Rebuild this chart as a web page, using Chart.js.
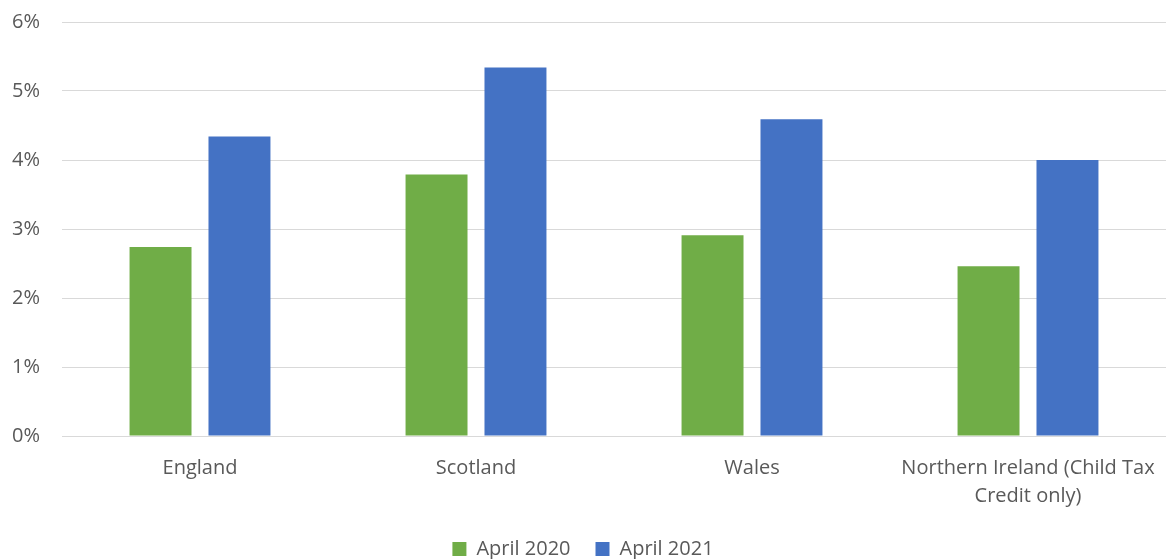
<!DOCTYPE html>
<html>
<head>
<meta charset="utf-8">
<script src="https://cdn.jsdelivr.net/npm/chart.js@4/dist/chart.umd.min.js"></script>
<style>
  html, body { margin: 0; padding: 0; background: #fff; }
  #wrap { width: 1166px; height: 559px; }
</style>
</head>
<body>
<div id="wrap"><canvas id="c"></canvas></div>
<script>
const categories = [
  'England',
  'Scotland',
  'Wales',
  ['Northern Ireland (Child Tax', 'Credit only)']
];
const april2020 = [2.74, 3.79, 2.91, 2.46];
const april2021 = [4.34, 5.34, 4.59, 4.00];
const yTicks = [0, 1, 2, 3, 4, 5, 6];

const textColor = '#595959';
const fontFamily = '"Open Sans", "Noto Sans", sans-serif';

new Chart(document.getElementById('c'), {
  type: 'bar',
  data: {
    labels: categories,
    datasets: [
      { label: 'April 2020', data: april2020, backgroundColor: '#70AD47',
        categoryPercentage: 0.572, barPercentage: 0.785 },
      { label: 'April 2021', data: april2021, backgroundColor: '#4472C4',
        categoryPercentage: 0.572, barPercentage: 0.785 }
    ]
  },
  options: {
    responsive: true,
    maintainAspectRatio: false,
    animation: false,
    layout: { padding: { top: 22, right: 0, left: 0, bottom: -10 } },
    plugins: {
      tooltip: { enabled: false },
      legend: {
        position: 'bottom',
        labels: {
          color: textColor,
          font: { family: fontFamily, size: 20 },
          boxWidth: 14,
          boxHeight: 14,
          padding: 25
        }
      }
    },
    scales: {
      x: {
        grid: { display: false, drawTicks: false },
        border: { display: false },
        afterFit: (scale) => {
          scale.paddingRight = 0;
          scale.paddingLeft = 0;
          scale.height -= 14;
        },
        ticks: {
          color: textColor,
          font: { family: fontFamily, size: 20, lineHeight: 1.4 },
          padding: 18,
          maxRotation: 0
        }
      },
      y: {
        min: 0,
        max: 6,
        afterBuildTicks: (scale) => { scale.ticks = yTicks.map(v => ({ value: v })); },
        afterFit: (scale) => { scale.width = 62; scale.paddingTop = 0; scale.paddingBottom = 0; },
        grid: { color: '#d9d9d9', lineWidth: 1, drawTicks: false },
        border: { display: false },
        ticks: {
          color: textColor,
          font: { family: fontFamily, size: 20 },
          padding: 22,
          callback: (v) => v + '%'
        }
      }
    }
  }
});
</script>
</body>
</html>
